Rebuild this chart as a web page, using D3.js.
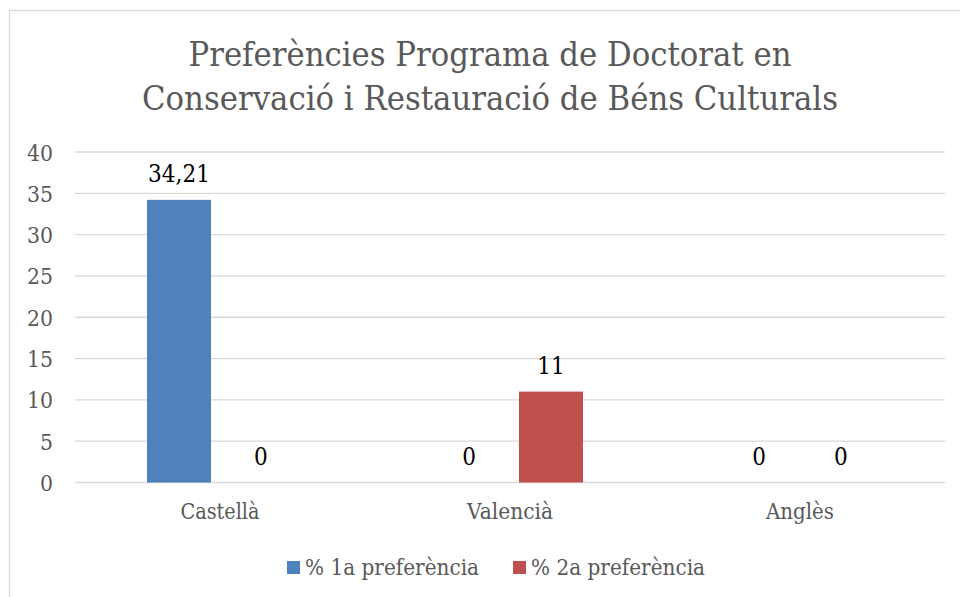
<!DOCTYPE html>
<html>
<head>
<meta charset="utf-8">
<script src="https://cdn.jsdelivr.net/npm/d3@7"></script>
<style>
html,body{margin:0;padding:0;background:#fff;}
svg{display:block;}
text{font-family:"DejaVu Serif",serif;}
</style>
</head>
<body>
<svg id="chart" width="960" height="597"></svg>
<script>
const categories = ["Castellà", "Valencià", "Anglès"];
const seriesNames = ["% 1a preferència", "% 2a preferència"];
const series1 = [34.21, 0, 0];
const series2 = [0, 11, 0];
const valueLabels1 = ["34,21", "0", "0"];
const valueLabels2 = ["0", "11", "0"];
const yTicks = [0, 5, 10, 15, 20, 25, 30, 35, 40];
const titleLines = ["Preferències Programa de Doctorat en", "Conservació i Restauració de Béns Culturals"];
const colors = ["#4f81bd", "#c0504d"];

const svg = d3.select("#chart");
const grey = "#595959";

function squeeze(sel, k) {
  sel.each(function(){
    const w = this.getComputedTextLength();
    d3.select(this).attr("textLength", w * k).attr("lengthAdjust", "spacingAndGlyphs");
  });
}
function fitTo(sel, w) {
  sel.attr("textLength", w).attr("lengthAdjust", "spacingAndGlyphs");
}

// chart border
svg.append("rect").attr("x", 9.5).attr("y", 10.5).attr("width", 1200).attr("height", 1200)
  .attr("fill", "none").attr("stroke", "#d9d9d9").attr("stroke-width", 1.3);

// title
const titleW = [603, 696];
titleLines.forEach((t, i) => {
  const tx = svg.append("text").attr("x", 490).attr("y", 66 + i * 44)
    .attr("text-anchor", "middle").attr("fill", grey).attr("font-size", 33).text(t);
  fitTo(tx, titleW[i]);
});

const x = d3.scaleBand().domain(categories).range([75, 945]).paddingInner(0.4966).paddingOuter(0.2483);
const x1 = d3.scaleBand().domain([0, 1]).range([0, x.bandwidth()]).paddingInner(0.2195);
const y = d3.scaleLinear().domain([0, 40]).range([482.5, 152]);

// gridlines
svg.append("g").selectAll("line").data(yTicks).join("line")
  .attr("x1", 75).attr("x2", 945)
  .attr("y1", d => y(d)).attr("y2", d => y(d))
  .attr("stroke", "#d9d9d9").attr("stroke-width", 1.3);

// y tick labels
const yl = svg.append("g").selectAll("text").data(yTicks).join("text")
  .attr("x", 53).attr("y", d => y(d) + 8.5)
  .attr("text-anchor", "end").attr("fill", grey).attr("font-size", 23)
  .text(d => d);
squeeze(yl, 0.89);

// bars
const seriesVals = [series1, series2];
const seriesLabels = [valueLabels1, valueLabels2];
seriesVals.forEach((vals, s) => {
  const g = svg.append("g");
  g.selectAll("rect").data(vals).join("rect")
    .attr("x", (d, i) => x(categories[i]) + x1(s))
    .attr("width", x1.bandwidth())
    .attr("y", d => y(d))
    .attr("height", d => y(0) - y(d))
    .attr("fill", colors[s]);
  const lbl = g.selectAll("text").data(vals).join("text")
    .attr("x", (d, i) => x(categories[i]) + x1(s) + x1.bandwidth() / 2)
    .attr("y", d => y(d) - 17.5)
    .attr("text-anchor", "middle").attr("fill", "#000").attr("font-size", 24)
    .text((d, i) => seriesLabels[s][i]);
  squeeze(lbl, 0.9);
});

// category labels
const catW = [79, 86, 68];
categories.forEach((c, i) => {
  const t = svg.append("text").attr("x", x(c) + x.bandwidth() / 2).attr("y", 519)
    .attr("text-anchor", "middle").attr("fill", grey).attr("font-size", 21.5).text(c);
  fitTo(t, catW[i]);
});

// legend
const legX = [287, 513];
const legW = [174, 174];
seriesNames.forEach((n, i) => {
  svg.append("rect").attr("x", legX[i]).attr("y", 561).attr("width", 13).attr("height", 13).attr("fill", colors[i]);
  const t = svg.append("text").attr("x", legX[i] + 18).attr("y", 575)
    .attr("fill", grey).attr("font-size", 21.5).text(n);
  fitTo(t, legW[i]);
});
</script>
</body>
</html>
